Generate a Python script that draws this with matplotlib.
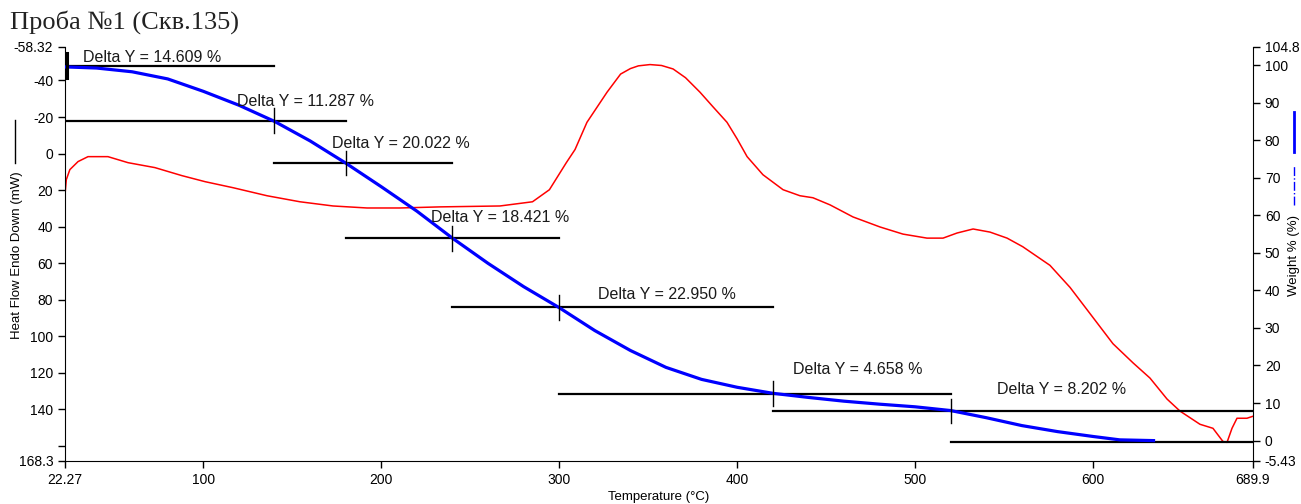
import matplotlib
matplotlib.use("Agg")
import matplotlib.pyplot as plt
from matplotlib.lines import Line2D

plt.rcParams['font.family'] = ['Liberation Sans', 'DejaVu Sans']

# Тепловой поток (красная кривая), мВт
temp_hf = [22.27, 23.0, 25.0, 29.6, 35.2, 46.4, 57.7, 72.8, 88.0, 101.0, 116.7, 135.8,
           154.3, 172.9, 192.0, 210.5, 233.0, 266.7, 285.0, 294.5, 304.0, 308.9, 315.6,
           326.9, 334.5, 340.0, 344.5, 351.0, 357.5, 364.0, 371.0, 379.1, 386.5, 394.3,
           400.0, 405.6, 414.5, 425.8, 435.3, 442.6, 452.2,
           465.1, 480.3, 493.2, 506.7, 515.7, 523.6, 532.6, 542.1, 551.7, 560.5, 575.8,
           587.1, 598.3, 611.2, 622.5, 632.0, 641.6, 648.9, 660.1, 667.4, 673.0, 675.3,
           678.1, 680.9, 686.5, 689.9]
heat_flow = [22.6, 14.3, 8.8, 4.4, 1.7, 1.7, 5.0, 7.7, 12.1, 15.4, 18.7, 23.1,
             26.4, 28.7, 29.8, 29.8, 29.2, 28.7, 26.4, 19.8, 5.0, -2.2, -17.1,
             -33.6, -43.5, -46.5, -48.0, -48.7, -48.2, -46.3, -41.5, -33.6, -25.5, -17.1,
             -8.0, 1.7, 11.6, 19.8, 23.1, 24.2, 28.1,
             34.7, 40.2, 44.1, 46.3, 46.3, 43.5, 41.3, 43.0, 46.3, 51.0, 61.2,
             73.3, 87.6, 104.1, 114.6, 122.9, 134.4, 141.0, 148.2, 150.4, 157.6, 158.1,
             150.4, 144.9, 144.9, 143.8]

# Масса (синяя кривая), %
temp_w = [22.27, 40, 60, 80, 100, 120, 140, 160, 180, 200, 220, 240, 260, 280, 300,
          320, 340, 360, 380, 400, 420, 440, 460, 480, 500, 520, 540, 560, 580, 600,
          615, 634]
weight = [99.5, 99.2, 98.2, 96.3, 93.0, 89.3, 85.0, 79.8, 73.9, 67.6, 61.1, 53.9,
          47.2, 41.0, 35.4, 29.3, 24.0, 19.5, 16.3, 14.2, 12.6, 11.5, 10.5, 9.7, 9.0,
          8.0, 6.1, 4.0, 2.4, 1.1, 0.2, 0.0]

# Ступени потери массы
bounds = [22.27, 140, 180, 240, 300, 420, 520, 689.9]
levels = [99.8, 85.2, 73.9, 53.9, 35.5, 12.5, 7.9, -0.3]
deltas = ['14.609', '11.287', '20.022', '18.421', '22.950', '4.658', '8.202']
label_pos = [(32.4, 101.9), (118.9, 90.4), (172.3, 79.0), (228.0, 59.4),
             (321.8, 39.0), (431.4, 18.8), (546.0, 13.5)]

xticks = [22.27, 100, 200, 300, 400, 500, 600, 689.9]
xticklabels = ['22.27', '100', '200', '300', '400', '500', '600', '689.9']
lticks = [-58.32, -40, -20, 0, 20, 40, 60, 80, 100, 120, 140, 160, 168.3]
lticklabels = ['-58.32', '-40', '-20', '0', '20', '40', '60', '80', '100', '120', '140', '', '168.3']
rticks = [-5.43, 0, 10, 20, 30, 40, 50, 60, 70, 80, 90, 100, 104.8]
rticklabels = ['-5.43', '0', '10', '20', '30', '40', '50', '60', '70', '80', '90', '100', '104.8']

fig = plt.figure(figsize=(13.01, 5.04), dpi=100)
ax = fig.add_axes([65 / 1301, 43 / 504, 1188 / 1301, 414 / 504])
ax2 = ax.twinx()

ax.plot(temp_hf, heat_flow, color='#ff0000', lw=1.1)
ax.set_xlim(22.27, 689.9)
ax.set_ylim(168.3, -58.32)

ax2.plot(temp_w, weight, color='#0000ff', lw=2.3, zorder=3)
ax2.set_ylim(-5.43, 104.8)

n = len(levels)
for k in range(n):
    x0 = bounds[max(k - 1, 0)]
    x1 = bounds[min(k + 1, n - 1)]
    ax2.plot([x0, x1], [levels[k], levels[k]], color='black', lw=1.6, zorder=2)
for k in range(n - 1):
    lw = 2.2 if k == 0 else 1.0
    ax2.plot([bounds[k] + (1.2 if k == 0 else 0)] * 2, [levels[k] - 3.3, levels[k] + 3.3],
             color='black', lw=lw, zorder=4)
for d, (tx, ty) in zip(deltas, label_pos):
    ax2.text(tx, ty, f'Delta Y = {d} %', fontsize=11.5, color='#1a1a1a',
             ha='left', va='center', zorder=5)

for a in (ax, ax2):
    a.spines['top'].set_visible(False)
    a.tick_params(direction='out', length=5, width=1, labelsize=10, colors='black')
ax.spines['right'].set_visible(False)
ax2.spines['left'].set_visible(False)
ax2.spines['bottom'].set_visible(False)

ax.set_xticks(xticks)
ax.set_xticklabels(xticklabels)
ax.set_yticks(lticks)
ax.set_yticklabels(lticklabels)
ax2.set_yticks(rticks)
ax2.set_yticklabels(rticklabels)
ax.tick_params(axis='x', pad=4)

fig.text(659 / 1301, 1 - 497 / 504, 'Temperature (°C)', ha='center', va='center', fontsize=9.5)
fig.text(17 / 1301, 1 - 255 / 504, 'Heat Flow Endo Down (mW)', rotation=90,
         ha='center', va='center', fontsize=9.5)
fig.add_artist(Line2D([15 / 1301] * 2, [1 - 163 / 504, 1 - 120 / 504], color='black', lw=1))
fig.text(1294 / 1301, 1 - 255 / 504, 'Weight % (%)', rotation=90,
         ha='center', va='center', fontsize=9.5)
fig.add_artist(Line2D([1294 / 1301] * 2, [1 - 152 / 504, 1 - 112 / 504], color='#0000ff', lw=2))
fig.add_artist(Line2D([1294 / 1301] * 2, [1 - 205 / 504, 1 - 165 / 504], color='#0000ff',
                      lw=1, ls='-.'))

fig.text(10 / 1301, 1 - 22 / 504, 'Проба №1 (Скв.135)', ha='left', va='center',
         fontsize=19, family=['Liberation Serif', 'DejaVu Serif'], color='#222222')

fig.savefig('out.png', dpi=100)
